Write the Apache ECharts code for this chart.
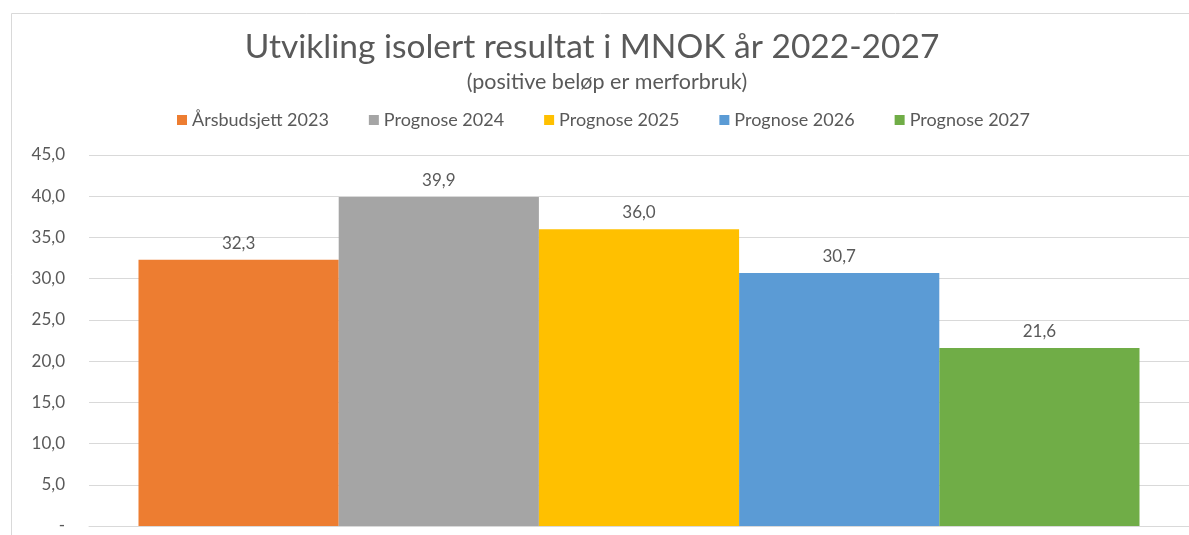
<!DOCTYPE html>
<html>
<head>
<meta charset="utf-8">
<script src="https://cdn.jsdelivr.net/npm/echarts@6/dist/echarts.min.js"></script>
<style>
  html, body { margin: 0; padding: 0; background: #fff; }
  #main { width: 1189px; height: 535px; }
</style>
</head>
<body>
<div id="main"></div>
<script>
// serier og verdier
const seriesNames = ['Årsbudsjett 2023', 'Prognose 2024', 'Prognose 2025', 'Prognose 2026', 'Prognose 2027'];
const seriesValues = [32.3, 39.9, 36.0, 30.7, 21.6];
const seriesColors = ['#ED7D31', '#A5A5A5', '#FFC000', '#5B9BD5', '#70AD47'];
const categories = [''];

const fontName = 'Lato, "Open Sans", sans-serif';

function fmt(v) {
  if (v === 0) return '-';
  return v.toFixed(1).replace('.', ',');
}

const chart = echarts.init(document.getElementById('main'));

const option = {
  backgroundColor: '#fff',
  animation: false,
  textStyle: { fontFamily: fontName },
  title: [{
    text: 'Utvikling isolert resultat i MNOK år 2022-2027',
    left: 587, top: 25, textAlign: 'center',
    textStyle: { fontFamily: fontName, fontSize: 33.5, fontWeight: 'normal', color: '#595959' }
  }, {
    text: '(positive beløp er merforbruk)',
    left: 602, top: 66, textAlign: 'center',
    textStyle: { fontFamily: fontName, fontSize: 21.5, fontWeight: 'normal', color: '#595959' }
  }],
  legend: {
    top: 106,
    left: 172,
    itemWidth: 10,
    itemHeight: 10,
    itemGap: 40,
    icon: 'rect',
    textStyle: { fontFamily: fontName, fontSize: 18, color: '#595959' },
    data: seriesNames
  },
  grid: { left: 89, right: -1, top: 155, bottom: 9 },
  xAxis: {
    type: 'category',
    data: categories,
    axisLine: { lineStyle: { color: '#D9D9D9' } },
    axisTick: { show: false },
    axisLabel: { show: false }
  },
  yAxis: {
    type: 'value',
    min: 0, max: 45, interval: 5,
    axisLine: { show: false },
    axisTick: { show: false },
    splitLine: { lineStyle: { color: '#D9D9D9' } },
    axisLabel: {
      formatter: fmt,
      margin: 24,
      fontFamily: fontName, fontSize: 17, color: '#595959'
    }
  },
  graphic: [{
    type: 'rect',
    shape: { x: 11.5, y: 13.5, width: 1300, height: 700 },
    style: { fill: 'none', stroke: '#D9D9D9', lineWidth: 1 },
    silent: true
  }],
  series: seriesNames.map((name, i) => ({
    name: name,
    type: 'bar',
    data: [seriesValues[i]],
    barGap: '0%',
    barCategoryGap: '9%',
    itemStyle: { color: seriesColors[i] },
    label: {
      show: true,
      position: 'top',
      distance: 8,
      formatter: p => fmt(p.value),
      fontFamily: fontName, fontSize: 17, color: '#595959'
    }
  }))
};

chart.setOption(option);
</script>
</body>
</html>
